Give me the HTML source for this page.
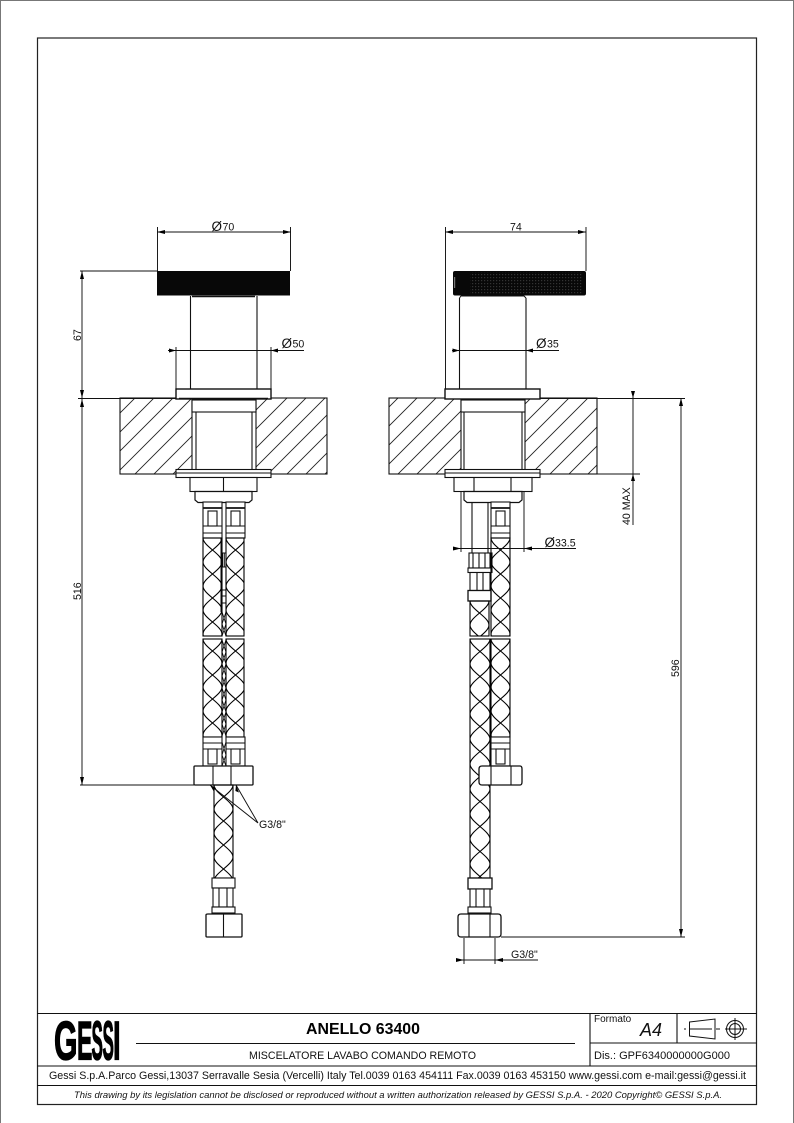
<!DOCTYPE html>
<html><head><meta charset="utf-8"><style>
html,body{margin:0;padding:0;background:#fff}
svg{display:block}
text{font-family:"Liberation Sans",sans-serif;fill:#111}
</style></head><body>
<svg width="794" height="1123" viewBox="0 0 794 1123" xmlns="http://www.w3.org/2000/svg">
<defs>
<pattern id="hL" width="19" height="19" patternUnits="userSpaceOnUse" patternTransform="translate(1,0)"><path d="M-1,20L20,-1M-2,2L2,-2M17,21L21,17" stroke="#222" stroke-width=".9" fill="none"/></pattern>
<pattern id="hR" width="19" height="19" patternUnits="userSpaceOnUse" patternTransform="translate(17,0)"><path d="M-1,20L20,-1M-2,2L2,-2M17,21L21,17" stroke="#222" stroke-width=".9" fill="none"/></pattern>
<pattern id="b19" width="19" height="48" patternUnits="userSpaceOnUse"><path d="M0,0C0,8 19,16 19,24C19,32 0,40 0,48M19,0C19,8 0,16 0,24C0,32 19,40 19,48" stroke="#000" stroke-width="1.1" fill="none"/></pattern>
<pattern id="b20" width="20" height="50" patternUnits="userSpaceOnUse"><path d="M0,0C0,8 20,17 20,25C20,33 0,42 0,50M20,0C20,8 0,17 0,25C0,33 20,42 20,50" stroke="#000" stroke-width="1.1" fill="none"/></pattern>
<pattern id="dots" width="3" height="3" patternUnits="userSpaceOnUse"><rect x="1" y="1" width="1.2" height="1.2" fill="#333"/></pattern>
<g id="headTop" fill="#fff" stroke="#111" stroke-width="1.1">
  <rect x="0" y="0" width="19" height="36"/>
  <path d="M0,6H19" stroke-width="1.8"/>
  <path d="M0,24H19M0,31H19"/>
  <rect x="5" y="9" width="9" height="15"/>
</g>
<g id="headBot" fill="#fff" stroke="#111" stroke-width="1.1">
  <rect x="0" y="0" width="19" height="29"/>
  <path d="M0,6H19M0,12H19"/>
  <rect x="5" y="12" width="9" height="15"/>
</g>
</defs>

<!-- page + frame -->
<rect x=".5" y=".5" width="793" height="1124" fill="none" stroke="#777"/>
<rect x="37.5" y="38" width="719" height="1066.5" fill="none" stroke="#222" stroke-width="1.2"/>
<g stroke="#111" stroke-width="1.1" fill="none">
  <path d="M37,1013.5H757M37,1066H757M37,1085.5H757"/>
  <path d="M590,1013V1066M677,1013V1043M590,1043H757M136,1043.5H575"/>
</g>

<!-- LEFT VIEW -->
<rect x="120" y="398" width="207" height="76" fill="url(#hL)" stroke="#111" stroke-width="1.1"/>
<rect x="192" y="399" width="64" height="72" fill="#fff"/>
<g fill="#fff" stroke="#111" stroke-width="1.1">
  <path d="M192,399H256V474H192Z"/>
  <path d="M196,412V470M252,412V470M192,412H256" />
  <rect x="192" y="400" width="64" height="12"/>
  <rect x="176" y="389" width="95" height="10" stroke-width="1.4"/>
  <rect x="176" y="469.5" width="95" height="8"/>
  <path d="M176,473H271"/>
  <rect x="190" y="477.5" width="67" height="14"/>
  <path d="M223.5,477.5V491.5"/>
  <path d="M195,491.5H252V500L249,502.5H198L195,500Z" stroke-width="1.2"/>
</g>
<path d="M190.5,296V389M257,296V389" stroke="#111" stroke-width="1.1" fill="none"/>
<rect x="157" y="271" width="133" height="24.5" fill="#080808"/>
<path d="M192,296.5H255" stroke="#111" stroke-width="1.5"/>
<path d="M179,398.5H268" stroke="#111" stroke-width="1.5"/>

<!-- left view, centre thin tube -->
<g fill="#fff" stroke="#111" stroke-width="1">
  <path d="M221,502V612M226,502V612" fill="none"/>
  <path d="M221,553H226V567H221Z"/>
  <path d="M222.6,553V567M224.3,553V567"/>
  <path d="M221,590H226M221,596H226M221,603H226"/>
  <path d="M222,612L226,624L222,636M226,612L222,624L226,636M222,640L226,652L222,664L226,676L222,688L226,700L222,712L226,724L222,736M226,640L222,652L226,664L222,676L226,688L222,700L226,712L222,724L226,736M222,742L226,755L222,766M226,742L222,755L226,766" fill="none" stroke-width=".9"/>
</g>

<!-- left view, two tubes -->
<use href="#headTop" x="203" y="502"/>
<use href="#headTop" x="226" y="502"/>
<g transform="translate(203,538)"><rect width="19" height="98" fill="url(#b19)" stroke="#000" stroke-width="1.1"/></g>
<g transform="translate(226,538)"><rect width="18" height="98" fill="url(#b19)" stroke="#000" stroke-width="1.1"/></g>
<g transform="translate(203,639)"><rect width="19" height="98" fill="url(#b19)" stroke="#000" stroke-width="1.1"/></g>
<g transform="translate(226,639)"><rect width="18" height="98" fill="url(#b19)" stroke="#000" stroke-width="1.1"/></g>
<use href="#headBot" x="203" y="737"/>
<use href="#headBot" x="226" y="737"/>

<!-- left view, lower nut and hose -->
<g fill="#fff" stroke="#111" stroke-width="1.1">
  <path d="M195,766H252Q253,766 253,767V784Q253,785 252,785H195Q194,785 194,784V767Q194,766 195,766Z" stroke-width="1.3"/>
  <path d="M213,766V785M231,766V785"/>
</g>
<g transform="translate(214,785)"><rect width="19" height="93" fill="url(#b19)" stroke="#000" stroke-width="1.1"/></g>
<g fill="#fff" stroke="#111" stroke-width="1.1">
  <rect x="212" y="878" width="23" height="10"/>
  <rect x="213" y="888" width="20" height="19"/>
  <path d="M219,888V907M227,888V907"/>
  <rect x="212" y="907" width="23" height="6"/>
  <path d="M208,914H241Q242,914 242,915V936Q242,937 241,937H207Q206,937 206,936V915Q206,914 208,914Z" stroke-width="1.3"/>
  <path d="M223.5,914V937"/>
</g>

<!-- RIGHT VIEW -->
<rect x="389" y="398" width="208" height="76" fill="url(#hR)" stroke="#111" stroke-width="1.1"/>
<rect x="461" y="399" width="64" height="72" fill="#fff"/>
<g fill="#fff" stroke="#111" stroke-width="1.1">
  <path d="M461,399V474M525,399V474" fill="none"/>
  <path d="M464,412V470M522,412V470" fill="none"/>
  <rect x="461" y="400" width="64" height="12"/>
  <rect x="445" y="389" width="95" height="10" stroke-width="1.4"/>
  <rect x="445" y="469.5" width="95" height="8"/>
  <path d="M445,473H540"/>
  <rect x="454" y="477.5" width="78" height="14"/>
  <path d="M474,477.5V491.5M511,477.5V491.5"/>
  <path d="M464,491.5H522V500L519,502.5H467L464,500Z" stroke-width="1.2"/>
</g>
<path d="M459.5,298V389M526,298V389" stroke="#111" stroke-width="1.1" fill="none"/>
<path d="M459.5,298L461,296H524L526,298" stroke="#111" fill="none"/>
<rect x="453" y="271" width="133" height="24.5" rx="2" fill="#080808"/>
<rect x="470" y="272" width="112" height="22" fill="url(#dots)"/>
<rect x="454" y="277" width="1.2" height="11" fill="#777"/>

<!-- right view, thin tube + left head -->
<g fill="#fff" stroke="#111" stroke-width="1.1">
  <path d="M472,502.5V553M488,502.5V553" fill="none"/>
  <rect x="469" y="553" width="23" height="15"/>
  <path d="M473,553V568M479,553V568M485,553V568M490,553V568"/>
  <rect x="468" y="568" width="24" height="4.5"/>
  <rect x="470" y="572.5" width="20" height="18"/>
  <path d="M477,572.5V590.5M483,572.5V590.5"/>
  <rect x="468" y="590.5" width="23" height="10.5" stroke-width="1.3"/>
</g>
<g transform="translate(470,601)"><rect width="19" height="35" fill="url(#b19)" stroke="#000" stroke-width="1.1"/></g>
<g transform="translate(470,639)"><rect width="20" height="239" fill="url(#b20)" stroke="#000" stroke-width="1.1"/></g>

<!-- right view, right tube -->
<use href="#headTop" x="491" y="502"/>
<g transform="translate(491,538)"><rect width="19" height="98" fill="url(#b19)" stroke="#000" stroke-width="1.1"/></g>
<g transform="translate(491,639)"><rect width="19" height="98" fill="url(#b19)" stroke="#000" stroke-width="1.1"/></g>
<use href="#headBot" x="491" y="737"/>
<g fill="#fff" stroke="#111" stroke-width="1.1">
  <path d="M482,766H520Q522,766 522,769V782Q522,785 520,785H482Q479,785 479,782V769Q479,766 482,766Z" stroke-width="1.3"/>
  <path d="M491,766V785M511,766V785"/>
  <rect x="468" y="878" width="24" height="11" stroke-width="1.3"/>
  <rect x="470" y="889" width="20" height="18"/>
  <path d="M476,889V907M484,889V907"/>
  <rect x="468" y="907" width="23" height="6"/>
  <path d="M461,914H498Q501,914 501,917V934Q501,937 498,937H461Q458,937 458,934V917Q458,914 461,914Z" stroke-width="1.3"/>
  <path d="M469,914V937M490,914V937"/>
</g>

<!-- DIMENSIONS -->
<g stroke="#111" stroke-width=".95" fill="none">
  <!-- 70 -->
  <path d="M157.5,227V271M290.5,227V271M157,232H291"/>
  <!-- 50 -->
  <path d="M176,347V389M271,347V389M168,350.5H304"/>
  <!-- 67/516 -->
  <path d="M80,271H157M78,398.5H176M82,271V785M80,785H194"/>
  <!-- G3/8 left -->
  <path d="M210,785L258,823M236,785L258,823"/>
  <!-- 74 -->
  <path d="M445.5,227V389M586,227V271M445,232H586"/>
  <!-- 35 -->
  <path d="M452,350.5H559"/>
  <!-- 33.5 -->
  <path d="M461,491V552M524,491V552M453,548.5H576"/>
  <!-- 40 MAX -->
  <path d="M540,398.5H685M597,474H640M633,392V525"/>
  <!-- 596 -->
  <path d="M681,398V937M501,937H685"/>
  <!-- G3/8 right -->
  <path d="M464,938V964M495,938V964M456,960H538"/>
</g>
<g fill="#000">
  <path d="M157,232l8,-2v4zM291,232l-8,-2v4z"/>
  <path d="M176,350.5l-7,-2v4zM271,350.5l7,-2v4z"/>
  <path d="M82,271l-2,8h4zM82,398l-2,-8h4zM82,399l-2,8h4zM82,785l-2,-8h4z"/>
  <path d="M210,785l6,3l-2.5,3zM236,785l3,7.5l-3.6,-1.5z"/>
  <path d="M445,232l8,-2v4zM586,232l-8,-2v4z"/>
  <path d="M459.5,350.5l-7,-2v4zM526,350.5l7,-2v4z"/>
  <path d="M461,548.5l-8,-2v4zM524,548.5l8,-2v4z"/>
  <path d="M633,398l-2,-7h4zM633,474l-2,7h4z"/>
  <path d="M681,398l-2,8h4zM681,937l-2,-8h4z"/>
  <path d="M464,960l-8,-2v4zM495,960l8,-2v4z"/>
</g>

<g font-size="10.6">
  <text x="211.5" y="231" font-size="13.5">Ø</text><text x="222.5" y="230.5">70</text>
  <text x="281.5" y="348" font-size="13.5">Ø</text><text x="292.5" y="347.5">50</text>
  <text x="510" y="230.5">74</text>
  <text x="536" y="348" font-size="13.5">Ø</text><text x="547" y="347.5">35</text>
  <text x="544.5" y="547" font-size="13.5">Ø</text><text x="555" y="546.5">33.5</text>
  <text transform="translate(81,341) rotate(-90)">67</text>
  <text transform="translate(81,600) rotate(-90)">516</text>
  <text transform="translate(630,525) rotate(-90)">40 MAX</text>
  <text transform="translate(679,677) rotate(-90)">596</text>
  <text x="259" y="828">G3/8"</text>
  <text x="511" y="958">G3/8"</text>
</g>

<!-- TITLE BLOCK -->
<g font-size="55" stroke="#000" stroke-width="1.3">
  <text transform="translate(54,1059.5) scale(.55,1)" style="fill:#000;font-weight:700">G</text>
  <text transform="translate(77,1059.5) scale(.42,1)" style="fill:#000;font-weight:700">E</text>
  <text transform="translate(91.5,1059.5) scale(.31,1)" style="fill:#000;font-weight:700">S</text>
  <text transform="translate(102.5,1059.5) scale(.31,1)" style="fill:#000;font-weight:700">S</text>
  <text transform="translate(113,1059.5) scale(.5,1)" style="fill:#000;font-weight:700">I</text>
</g>
<text x="306" y="1034" font-size="16" font-weight="700" textLength="114" lengthAdjust="spacingAndGlyphs" style="fill:#000">ANELLO 63400</text>
<text x="249" y="1059" font-size="10.7" textLength="227" lengthAdjust="spacingAndGlyphs">MISCELATORE LAVABO COMANDO REMOTO</text>
<text x="594" y="1022" font-size="10">Formato</text>
<text x="640" y="1036" font-size="18" font-style="italic">A4</text>
<text x="594" y="1059" font-size="11.2" textLength="136" lengthAdjust="spacingAndGlyphs">Dis.: GPF6340000000G000</text>
<text x="49" y="1079" font-size="10.8" textLength="697" lengthAdjust="spacingAndGlyphs">Gessi S.p.A.Parco Gessi,13037 Serravalle Sesia (Vercelli) Italy Tel.0039 0163 454111 Fax.0039 0163 453150 www.gessi.com e-mail:gessi@gessi.it</text>
<text x="74" y="1098" font-size="9" font-style="italic" textLength="648" lengthAdjust="spacingAndGlyphs">This drawing by its legislation cannot be disclosed or reproduced without a written authorization released by GESSI S.p.A. - 2020 Copyright© GESSI S.p.A.</text>
<g stroke="#111" stroke-width="1" fill="none">
  <path d="M689.5,1022L715,1019V1039L689.5,1036Z"/>
  <path d="M684,1029H686M690,1029H712M716,1029H720"/>
  <circle cx="735" cy="1029" r="8.5"/>
  <circle cx="735" cy="1029" r="5.5"/>
  <path d="M725,1029H747M735,1018V1040"/>
</g>
</svg>
</body></html>
